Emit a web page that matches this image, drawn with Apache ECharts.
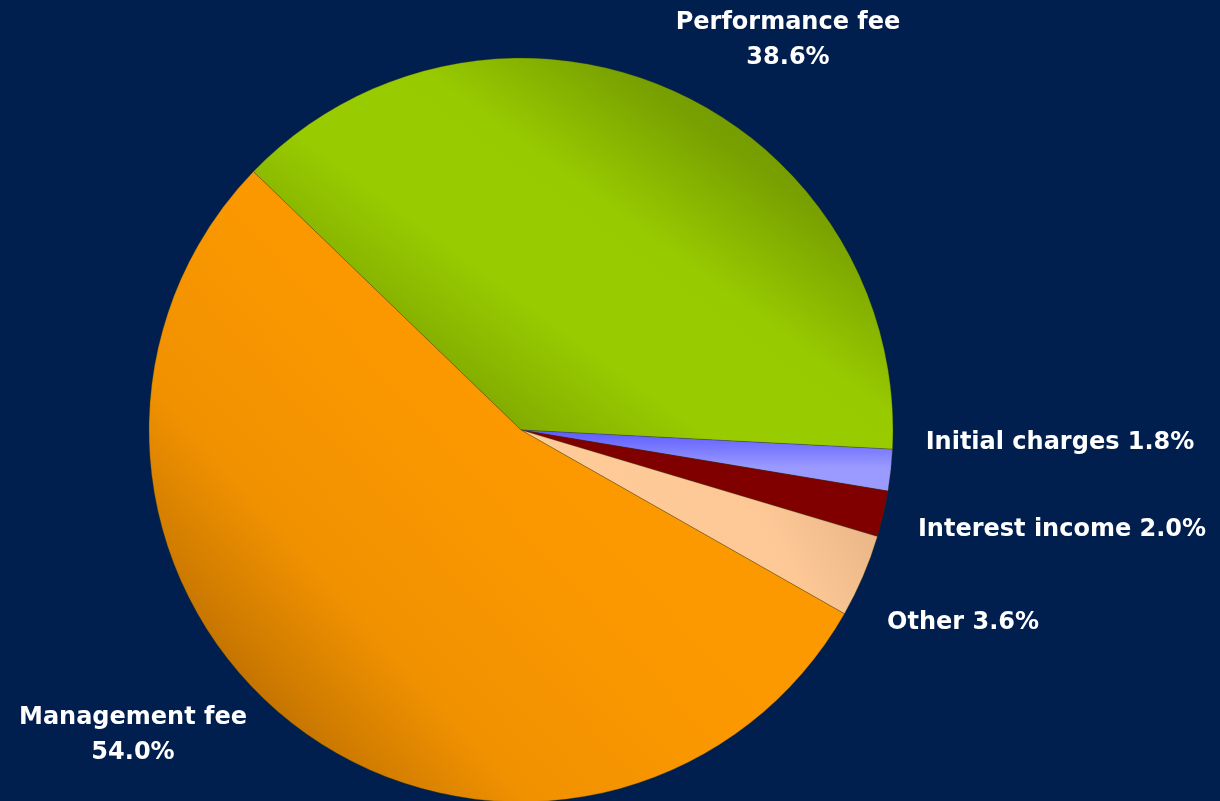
<!DOCTYPE html>
<html>
<head>
<meta charset="utf-8">
<script src="https://cdn.jsdelivr.net/npm/echarts@6/dist/echarts.min.js"></script>
<style>
html,body{margin:0;padding:0;background:#001F4E;}
#chart{width:1220px;height:801px;}
</style>
</head>
<body>
<div id="chart"></div>
<script>
// Data (clockwise from the top-left boundary)
const categories = ['Performance fee', 'Initial charges', 'Interest income', 'Other', 'Management fee'];
const values = [38.6, 1.8, 2.0, 3.6, 54.0];
const twoLine = [true, false, false, false, true];

// styling / layout (not data)
const colors = [
  new echarts.graphic.LinearGradient(0.3, 1, 0.75, 0, [
    {offset: 0, color: '#6f9800'},
    {offset: 0.15, color: '#85b000'},
    {offset: 0.35, color: '#99cc00'},
    {offset: 0.6, color: '#98ca00'},
    {offset: 0.85, color: '#78a000'},
    {offset: 1, color: '#6f9600'}
  ]),
  new echarts.graphic.LinearGradient(0, 0, 0, 1, [
    {offset: 0, color: '#5a5aff'},
    {offset: 0.6, color: '#9999ff'},
    {offset: 1, color: '#9b9bff'}
  ]),
  '#800000',
  new echarts.graphic.LinearGradient(1, 0, 0, 1, [
    {offset: 0, color: '#e0ad80'},
    {offset: 0.35, color: '#fdc896'},
    {offset: 1, color: '#ffcc99'}
  ]),
  new echarts.graphic.LinearGradient(1, 0, 0, 1, [
    {offset: 0, color: '#ff9900'},
    {offset: 0.5, color: '#fb9800'},
    {offset: 0.7, color: '#f09100'},
    {offset: 0.8, color: '#d27d00'},
    {offset: 0.9, color: '#ab6500'},
    {offset: 1, color: '#995a00'}
  ])
];
const labelPos = [
  {x: 788, y: 40, align: 'center'},
  {x: 1060, y: 443, align: 'center'},
  {x: 1062, y: 530, align: 'center'},
  {x: 887, y: 623, align: 'left'},
  {x: 133, y: 735, align: 'center'}
];

const chart = echarts.init(document.getElementById('chart'), null, {renderer: 'canvas'});
chart.setOption({
  backgroundColor: '#001F4E',
  animation: false,
  series: [{
    type: 'pie',
    center: [521, 430],
    radius: [0, 372],
    startAngle: 136,
    clockwise: true,
    avoidLabelOverlap: false,
    data: categories.map((c, i) => ({
      name: c,
      value: values[i],
      itemStyle: {color: colors[i]}
    })),
    itemStyle: {borderWidth: 0.6, borderColor: 'rgba(60,60,0,0.5)'},
    label: {
      show: true,
      position: 'outside',
      color: '#ffffff',
      fontFamily: 'DejaVu Sans',
      fontWeight: 'bold',
      fontSize: 24,
      lineHeight: 35,
      formatter: p => twoLine[p.dataIndex]
        ? p.name + '\n' + p.value.toFixed(1) + '%'
        : p.name + ' ' + p.value.toFixed(1) + '%'
    },
    labelLine: {show: false},
    labelLayout: p => ({
      x: labelPos[p.dataIndex].x,
      y: labelPos[p.dataIndex].y,
      align: labelPos[p.dataIndex].align,
      verticalAlign: 'middle'
    }),
    emphasis: {disabled: true}
  }]
});
</script>
</body>
</html>
